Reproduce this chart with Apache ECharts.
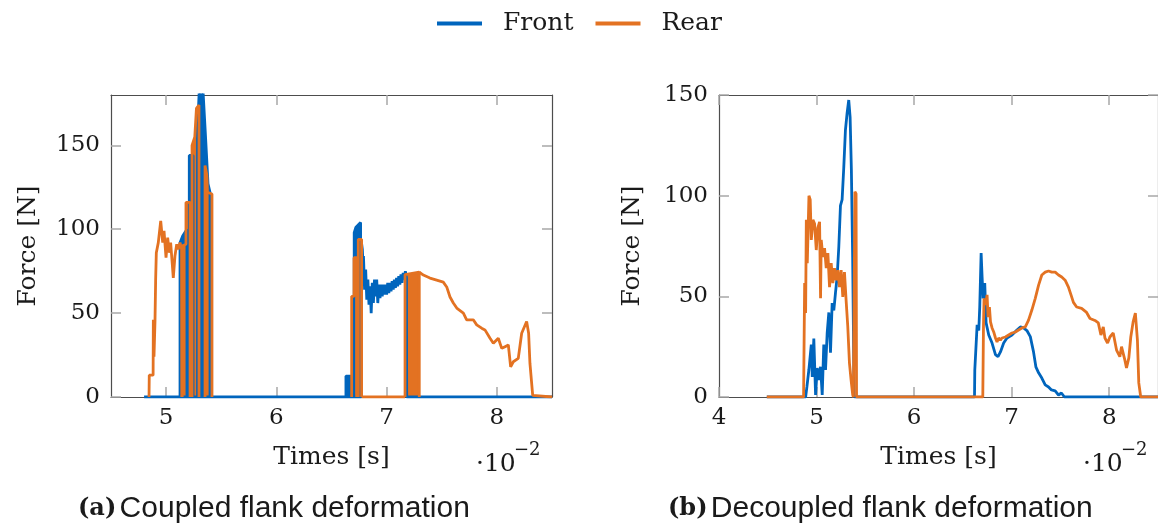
<!DOCTYPE html>
<html lang="en">
  <head>
    <meta charset="UTF-8" />
    <title>Front / Rear force</title>
    <script src="https://cdn.jsdelivr.net/npm/echarts@6/dist/echarts.min.js"></script>
    <style>
      body { margin: 0; background: #fff; }
    </style>
  </head>
  <body>
    <div id="chart" style="width: 1158px; height: 526px"></div>

    <script type="text/javascript">
      // tick values
      const xTicksA = [5, 6, 7, 8];
      const xTicksB = [4, 5, 6, 7, 8];
      const yTicks = [0, 50, 100, 150];

      // (a) coupled: continuous parts of the signals, [time x100, force]
      const frontA = [
        [4.8, 0], [6.77, 0], [6.772, 92], [6.78, 88], [6.785, 80],
        [6.79, 84], [6.8, 64], [6.81, 76], [6.82, 58], [6.83, 70], [6.84, 55],
        [6.85, 66], [6.86, 50], [6.87, 68], [6.88, 56], [6.89, 70], [6.9, 60],
        [6.91, 70], [6.92, 56], [6.93, 67], [6.94, 59], [6.95, 67], [6.96, 60],
        [6.97, 67], [6.98, 61], [6.99, 67], [7.0, 61], [7.01, 68], [7.02, 62],
        [7.03, 68], [7.04, 63], [7.05, 69], [7.06, 64], [7.07, 70], [7.08, 65],
        [7.09, 71], [7.1, 66], [7.11, 72], [7.12, 67], [7.13, 73], [7.14, 68],
        [7.15, 74], [7.16, 70], [7.17, 75], [7.18, 71], [7.182, 0], [8.5, 0]
      ];
      // (a) chattering contact: dense on/off parts drawn as filled blocks
      const frontBlocksA = [
        [5.126, 0], [5.126, 92], [5.15, 96], [5.189, 100], [5.189, 0], [5.19, '-'],
        [5.21, 0], [5.21, 144], [5.244, 144], [5.244, 0], [5.25, '-'],
        [5.285, 0], [5.285, 160], [5.3, 182], [5.335, 182], [5.355, 158],
        [5.38, 127], [5.398, 122], [5.398, 0], [5.4, '-'],
        [6.631, 0], [6.631, 12.5], [6.674, 12.5], [6.674, 0], [6.68, '-'],
        [6.706, 0], [6.706, 98], [6.72, 101], [6.764, 104], [6.764, 0]
      ];
      const rearA = [
        [4.845, 0], [4.847, 13], [4.882, 13], [4.884, 46], [4.89, 24], [4.899, 45],
        [4.905, 70], [4.911, 86], [4.929, 92], [4.951, 105], [4.969, 92], [4.981, 99],
        [4.999, 83], [5.014, 95], [5.029, 86], [5.041, 92], [5.056, 79], [5.065, 71],
        [5.08, 84], [5.096, 91], [5.11, 88], [5.126, 92], [5.141, 88], [5.144, 0],
        [5.15, '-'],
        [6.773, 0], [7.167, 0], [7.17, '-'],
        [7.296, 74.5], [7.333, 72.7], [7.393, 70.9], [7.454, 69.7], [7.514, 68.5],
        [7.545, 65.6], [7.575, 59.6], [7.605, 56], [7.636, 53], [7.696, 50],
        [7.726, 46], [7.786, 46], [7.817, 43], [7.862, 41], [7.892, 40], [7.938, 35],
        [7.968, 32], [8.013, 35], [8.044, 29], [8.074, 30], [8.104, 31], [8.125, 18],
        [8.149, 21], [8.194, 23], [8.225, 38], [8.27, 45], [8.288, 38], [8.3, 20],
        [8.325, 1], [8.33, 0], [8.5, 0]
      ];
      const rearBlocksA = [
        [5.144, 0], [5.144, 90], [5.18, 91], [5.18, 116], [5.217, 116], [5.217, 0], [5.22, '-'],
        [5.235, 0], [5.235, 150], [5.26, 155], [5.275, 172], [5.298, 174], [5.298, 0], [5.3, '-'],
        [5.353, 0], [5.353, 138], [5.37, 132], [5.375, 122], [5.416, 121], [5.416, 0], [5.42, '-'],
        [6.683, 0], [6.683, 60], [6.704, 60], [6.704, 83], [6.728, 83], [6.728, 0], [6.73, '-'],
        [6.743, 0], [6.743, 94], [6.773, 94], [6.773, 0], [6.78, '-'],
        [7.167, 0], [7.167, 73], [7.296, 74.5], [7.296, 0]
      ];

      // (b) decoupled
      const frontB = [
        [4.49, 0], [4.888, 0], [4.901, 5], [4.921, 13.4], [4.946, 26], [4.956, 10],
        [4.972, 29], [4.99, 1], [5.007, 14.4], [5.023, 8.4], [5.041, 15], [5.058, 1],
        [5.074, 26], [5.092, 13.4], [5.109, 32], [5.126, 42], [5.143, 22], [5.16, 46.7],
        [5.177, 43], [5.194, 51.7], [5.211, 59.6], [5.228, 74.5], [5.245, 95], [5.262, 98],
        [5.279, 114], [5.296, 132.6], [5.313, 141], [5.33, 147.5], [5.344, 139],
        [5.357, 112.7], [5.37, 69.5], [5.385, 1], [5.39, 0], [6.619, 0], [6.622, 13.4],
        [6.636, 13.4], [6.646, 35.8], [6.663, 33], [6.673, 45], [6.687, 71.5], [6.697, 59.6],
        [6.707, 49], [6.724, 56.6], [6.738, 36.8], [6.765, 30.8], [6.799, 26.8], [6.834, 21],
        [6.86, 20], [6.885, 22.4], [6.918, 26.8], [6.952, 29.3], [7.003, 30.8], [7.054, 33.3],
        [7.089, 34.8], [7.122, 34.3], [7.156, 33], [7.191, 30], [7.224, 22.4], [7.248, 15],
        [7.276, 12], [7.309, 9.4], [7.344, 6], [7.378, 5], [7.408, 3.5], [7.446, 3],
        [7.48, 1], [7.51, 2], [7.541, 0], [8.6, 0]
      ];
      const rearB = [
        [4.49, 0], [4.867, 0], [4.878, 56.6], [4.888, 41.7], [4.895, 88], [4.905, 66.5],
        [4.922, 100], [4.935, 98], [4.946, 78], [4.963, 88], [4.98, 86], [4.997, 73],
        [5.013, 84], [5.031, 87], [5.041, 49], [5.048, 78], [5.065, 69.5], [5.082, 74],
        [5.099, 64], [5.116, 71.5], [5.133, 54.6], [5.15, 66.5], [5.167, 56.6], [5.184, 64],
        [5.201, 58], [5.218, 63], [5.235, 54.6], [5.252, 63], [5.269, 49.7], [5.286, 62],
        [5.303, 48], [5.32, 35], [5.337, 17], [5.354, 8.4], [5.371, 1], [5.378, 0],
        [5.39, 0], [5.393, 102], [5.405, 101], [5.41, 0], [6.704, 0], [6.711, 35],
        [6.717, 49], [6.732, 45.7], [6.748, 50.7], [6.758, 39.7], [6.772, 44.7], [6.783, 37.3],
        [6.799, 34.3], [6.816, 32.3], [6.834, 29.3], [6.85, 27.3], [6.867, 29.3], [6.885, 28.3],
        [6.901, 29.3], [6.936, 29.8], [6.969, 30.8], [7.003, 31.8], [7.038, 32.3], [7.071, 33.3],
        [7.105, 34.3], [7.14, 34.8], [7.173, 38.2], [7.207, 43.2], [7.242, 49], [7.276, 55.6],
        [7.309, 60.6], [7.344, 62], [7.378, 62.6], [7.411, 62], [7.446, 62], [7.48, 60.6],
        [7.513, 59.6], [7.548, 58], [7.582, 54.6], [7.615, 49.7], [7.633, 47], [7.666, 44.7],
        [7.717, 44], [7.768, 42], [7.803, 39], [7.854, 38], [7.888, 36.8], [7.915, 30.8],
        [7.939, 34.8], [7.956, 29.3], [7.983, 26.8], [8.007, 29.8], [8.041, 31.8], [8.075, 23.3],
        [8.109, 20], [8.126, 25], [8.16, 18.4], [8.177, 14.4], [8.201, 19.4], [8.221, 29.8],
        [8.245, 37.3], [8.268, 41.7], [8.289, 28.3], [8.303, 7], [8.323, 0], [8.6, 0]
      ];

      const BLUE = "#0065bd";
      const ORANGE = "#e37222";
      const SERIF = "DejaVu Serif";
      const TXT = "#1a1a1a";

      let chart = echarts.init(document.getElementById("chart"));

      // pgfplots-style box: ticks inside on all four sides
      const frame = { show: true, onZero: false, lineStyle: { color: "#4d4d4d", width: 1.2 } };
      const tick = (vals) => ({
        show: true, inside: true, length: 10, customValues: vals,
        lineStyle: { color: "#a8a8a8", width: 1.5 },
      });

      function xAxes(grid, min, max, ticks, gap) {
        return [
          {
            type: "value", gridIndex: grid, position: "bottom", min: min, max: max,
            axisLine: frame, axisTick: tick(ticks), splitLine: { show: false },
            axisLabel: { customValues: ticks, fontFamily: SERIF, fontSize: 23, color: TXT, margin: 10 },
            name: "Times [s]", nameLocation: "middle", nameGap: gap,
            nameTextStyle: { fontFamily: SERIF, fontSize: 25, color: TXT },
          },
          {
            type: "value", gridIndex: grid, position: "top", min: min, max: max,
            axisLine: frame, axisTick: tick(ticks), axisLabel: { show: false }, splitLine: { show: false },
          },
        ];
      }

      function yAxes(grid, max, gap) {
        return [
          {
            type: "value", gridIndex: grid, position: "left", min: 0, max: max,
            axisLine: frame, axisTick: tick(yTicks), splitLine: { show: false },
            axisLabel: { customValues: yTicks, fontFamily: SERIF, fontSize: 23, color: TXT, margin: 11 },
            name: "Force [N]", nameLocation: "middle", nameGap: gap,
            nameTextStyle: { fontFamily: SERIF, fontSize: 25, color: TXT },
          },
          {
            type: "value", gridIndex: grid, position: "right", min: 0, max: max,
            axisLine: frame, axisTick: tick(yTicks), axisLabel: { show: false }, splitLine: { show: false },
          },
        ];
      }

      function line(name, color, data, xi, yi, filled) {
        const s = {
          name: name, type: "line", data: data, xAxisIndex: xi, yAxisIndex: yi,
          symbol: "none", showSymbol: false, connectNulls: false,
          lineStyle: { color: color, width: 2.8 }, itemStyle: { color: color },
        };
        if (filled) s.areaStyle = { color: color, opacity: 1 };
        return s;
      }

      const caption = (x, tag, text) => ({
        type: "text", left: x, top: 494,
        style: {
          text: "{b|" + tag + "} {n|" + text + "}",
          rich: {
            b: { fontFamily: SERIF, fontWeight: "bold", fontSize: 24, fill: TXT },
            n: { fontFamily: "Liberation Sans", fontSize: 30, fill: TXT },
          },
        },
      });

      const option = {
        animation: false,
        legend: {
          data: ["Front", "Rear"], left: 432, top: 6,
          icon: "rect", itemWidth: 45, itemHeight: 4, itemGap: 22,
          textStyle: { fontFamily: SERIF, fontSize: 25, color: TXT, padding: [0, 0, 0, 16] },
        },
        grid: [
          { left: 111, top: 95, width: 441, height: 302 },
          { left: 719, top: 95, width: 441, height: 302 },
        ],
        xAxis: [].concat(xAxes(0, 4.5, 8.5, xTicksA, 48), xAxes(1, 4, 8.5, xTicksB, 48)),
        yAxis: [].concat(yAxes(0, 180, 70), yAxes(1, 150, 74)),
        series: [
          line("Front", BLUE, frontA, 0, 0),
          line("Front", BLUE, frontBlocksA, 0, 0, true),
          line("Rear", ORANGE, rearA, 0, 0),
          line("Rear", ORANGE, rearBlocksA, 0, 0, true),
          line("Front", BLUE, frontB, 2, 2),
          line("Rear", ORANGE, rearB, 2, 2),
        ],
        graphic: [
          { type: "text", left: 476, top: 452, style: { text: "\u00b710", font: "25px 'DejaVu Serif'", fill: TXT } },
          { type: "text", left: 514, top: 441, style: { text: "\u22122", font: "18px 'DejaVu Serif'", fill: TXT } },
          { type: "text", left: 1083, top: 452, style: { text: "\u00b710", font: "25px 'DejaVu Serif'", fill: TXT } },
          { type: "text", left: 1121, top: 441, style: { text: "\u22122", font: "18px 'DejaVu Serif'", fill: TXT } },
          caption(78, "(a)", "Coupled flank deformation"),
          caption(668, "(b)", "Decoupled flank deformation"),
        ],
      };

      chart.setOption(option);
    </script>
  </body>
</html>
